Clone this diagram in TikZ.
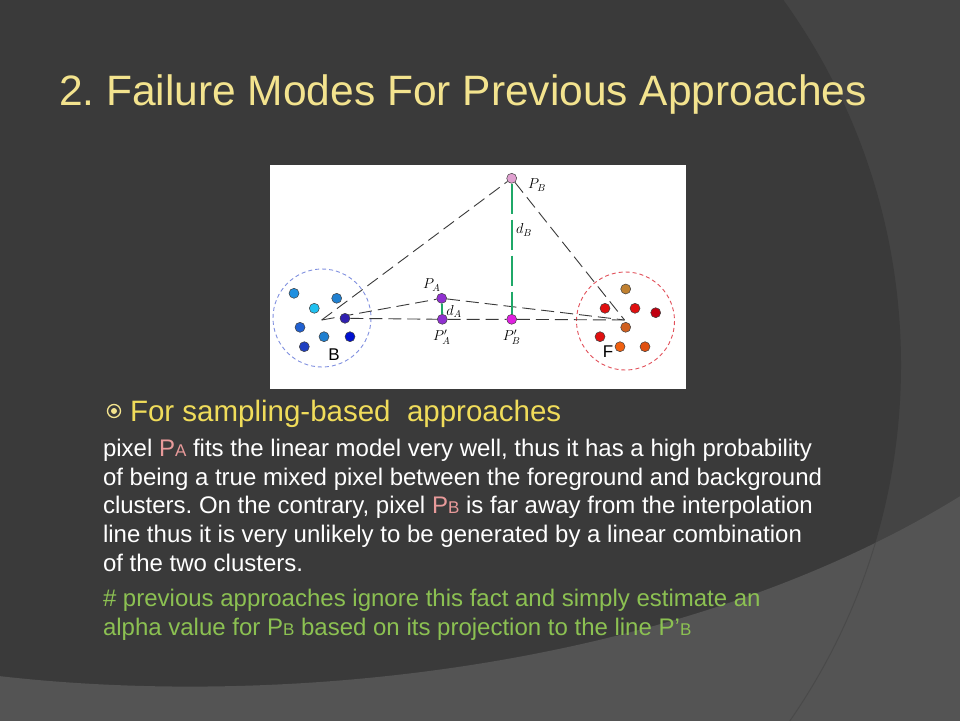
\documentclass[tikz,border=0pt]{standalone}
\usepackage{fontspec}
\setmainfont{Liberation Sans}
\frenchspacing
\definecolor{bgdark}{HTML}{3A3A3A}
\definecolor{bgmid}{HTML}{444444}
\definecolor{bglight}{HTML}{545454}
\definecolor{arcline}{HTML}{4A4A4A}
\definecolor{titleyellow}{HTML}{F3E38E}
\definecolor{headyellow}{HTML}{F0DC5A}
\definecolor{pinktext}{HTML}{E89A9A}
\definecolor{greentext}{HTML}{8CC152}
\definecolor{dashgray}{HTML}{3A3A3A}
\definecolor{greenline}{HTML}{1FA868}
\definecolor{bcircle}{HTML}{8090E0}
\definecolor{fcircle}{HTML}{E2505A}
\definecolor{cb1}{HTML}{2090E0}
\definecolor{cb2}{HTML}{2080D0}
\definecolor{cb3}{HTML}{20C0F0}
\definecolor{cb4}{HTML}{3020B0}
\definecolor{cb5}{HTML}{2060D0}
\definecolor{cb7}{HTML}{0010D0}
\definecolor{cb8}{HTML}{2040C0}
\definecolor{cf1}{HTML}{C08030}
\definecolor{cf2}{HTML}{E01010}
\definecolor{cf4}{HTML}{C00010}
\definecolor{cf5}{HTML}{D06020}
\definecolor{cf7}{HTML}{F06010}
\definecolor{cf8}{HTML}{E05010}
\definecolor{cpb}{HTML}{E0A0D0}
\definecolor{cpa}{HTML}{9030D0}
\definecolor{cppb}{HTML}{E020E0}
\begin{document}
\begin{tikzpicture}[x=1pt,y=-1pt,
  txt/.style={anchor=base west, inner sep=0pt, outer sep=0pt},
  body/.style={txt, text=white, font=\fontsize{24}{28}\selectfont},
  greenbody/.style={txt, text=greentext, font=\fontsize{24}{28}\selectfont},
  pt/.style={circle, draw=black!75, line width=0.5pt, inner sep=0pt, minimum size=10pt, fill=#1},
  conn/.style={draw=dashgray, line width=0.9pt, dash pattern=on 13pt off 6pt},
  gconn/.style={draw=greenline, line width=1.8pt},
  lbl/.style={inner sep=0pt, font=\fontsize{14}{16}\selectfont},
  clbl/.style={inner sep=0pt, font=\fontsize{17}{19}\selectfont},
  bcirc/.style={draw=#1, line width=0.9pt, dash pattern=on 4pt off 3pt}
]
\useasboundingbox (0,0) rectangle (960,720);
% background
\begin{scope}
\clip (0,0) rectangle (960,720);
\fill[bgmid] (0,0) rectangle (960,720);
\fill[bgdark] (276,365) circle (625);
\fill[bglight] (-10,675) .. controls (280,710) and (680,670) .. (962,495) -- (962,730) -- (-10,730) -- cycle;
\begin{scope}
\clip (-10,675) .. controls (280,710) and (680,670) .. (962,495) -- (962,730) -- (-10,730) -- cycle;
\draw[arcline, line width=1pt] (276,365) circle (625);
\end{scope}
\end{scope}

% title
\node[txt, text=titleyellow, font=\fontsize{42.5}{50}\selectfont] (title) at (59,105) {2. Failure Modes For Previous Approaches};

% diagram
\fill[white] (270,165) rectangle (686,389);
\draw[bcirc=bcircle] (322,318) circle (49);
\draw[bcirc=fcircle] (625.5,321) circle (49);

\coordinate (ba) at (321.7,320);
\coordinate (fa) at (624.5,320);

% cluster B points
\node[pt=cb1] (b1) at (294,293.3) {};
\node[pt=cb2] (b2) at (336.7,298.3) {};
\node[pt=cb3] (b3) at (314.3,308.3) {};
\node[pt=cb5] (b5) at (300,327.3) {};
\node[pt=cb2] (b6) at (324,336.7) {};
\node[pt=cb7] (b7) at (350,336.7) {};
\node[pt=cb8] (b8) at (304.3,346.7) {};
\node[clbl] (blab) at (334,355) {B};

% cluster F points
\node[pt=cf1] (f1) at (625.7,289) {};
\node[pt=cf2] (f2) at (605,308.3) {};
\node[pt=cf2] (f3) at (635,308.3) {};
\node[pt=cf4] (f4) at (655.7,312.7) {};
\node[pt=cf2] (f6) at (600,336.7) {};
\node[pt=cf7] (f7) at (620,346.7) {};
\node[pt=cf8] (f8) at (645,346.7) {};
\node[clbl] (flab) at (608,352) {F};

% special points
\node[pt=cpb] (pb) at (511.7,178.3) {};
\node[pt=cpa] (pa) at (441.7,298.3) {};
\node[pt=cpa] (ppa) at (442.3,319.3) {};
\node[pt=cppb] (ppb) at (511.7,319.3) {};

% connectors
\draw[conn] (ba) -- (pb);
\draw[conn] (ba) -- (pa);
\draw[conn] (pb) -- (fa);
\draw[conn] (pa) -- (fa);
\node[pt=cb4] (b4) at (345,318.3) {};
\draw[conn] (b4) -- (ppa) -- (ppb) -- (fa);
\node[pt=cf5] (f5) at (625.7,327.3) {};
\draw[gconn, dash pattern=on 30pt off 6pt] (pb) -- (ppb);
\draw[gconn] (pa) -- (ppa);

% labels
\node[lbl] (lpb) at (537,185) {$P_B$};
\node[lbl] (ldb) at (524,230) {$d_B$};
\node[lbl] (lpa) at (431.7,285) {$P_A$};
\node[lbl] (lda) at (454,311.7) {$d_A$};
\node[lbl] (lppa) at (441.7,337) {$P'_A$};
\node[lbl] (lppb) at (511.7,337) {$P'_B$};

% bullet
\draw[titleyellow, line width=1.3pt] (114,411) circle (6.5);
\fill[titleyellow] (114,411) circle (3);

\node[txt, text=headyellow, font=\fontsize{29.5}{36}\selectfont] (head) at (130,421) {For sampling-based\ \ approaches};

\node[body] (l1) at (103,456.5) {pixel {\color{pinktext}P{\fontsize{17}{20}\selectfont A}} fits the linear model very well, thus it has a high probability};
\node[body] (l2) at (103,485) {of being a true mixed pixel between the foreground and background};
\node[body] (l3) at (103,513.5) {clusters. On the contrary, pixel {\color{pinktext}P{\fontsize{17}{20}\selectfont B}} is far away from the interpolation};
\node[body] (l4) at (103,542.5) {line thus it is very unlikely to be generated by a linear combination};
\node[body] (l5) at (103,571.5) {of the two clusters.};
\node[greenbody] (g1) at (103,606) {\# previous approaches ignore this fact and simply estimate an};
\node[greenbody] (g2) at (103,635) {alpha value for P{\fontsize{17}{20}\selectfont B} based on its projection to the line P’{\fontsize{17}{20}\selectfont B}};
\end{tikzpicture}
\end{document}
